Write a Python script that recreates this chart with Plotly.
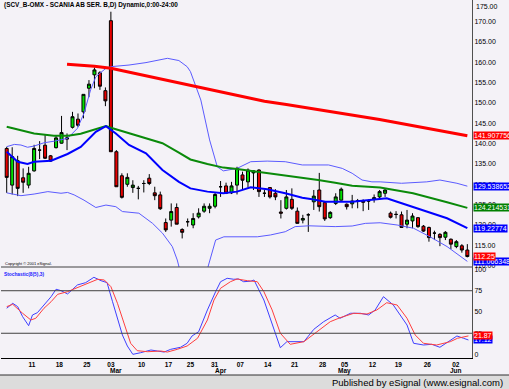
import plotly.graph_objects as go

# ---------------- data ----------------
open_ = [138.8, 129.8, 135.8, 131.6, 129.8, 133.3, 138.4, 139.6, 137.0, 139.0,
         140.1, 141.1, 144.0, 146.0, 147.8, 153.6, 156.9, 157.4, 153.0, 170.2,
         138.0, 132.1, 130.0, 129.2, 129.0, 130.2, 131.5, 127.9, 127.4, 120.6,
         121.2, 124.3, 118.9, 120.8, 120.0, 122.0, 123.4, 124.1, 124.6, 129.4,
         129.6, 127.9, 129.8, 132.3, 130.6, 132.8, 133.5, 127.8, 129.2, 127.8,
         123.2, 124.1, 126.3, 123.4, 121.2, 122.5, 125.7, 128.6, 125.5, 121.8,
         125.3, 126.1, 125.1, 125.2, 125.9, 125.9, 125.9, 126.4, 126.9, 127.8,
         122.9, 122.6, 122.5, 120.2, 121.0, 121.8, 119.7, 119.4, 118.0, 117.7,
         117.0, 116.5, 114.7, 114.9, 113.85]
high = [139.2, 139.1, 137.0, 133.9, 134.3, 139.7, 140.6, 142.1, 137.2, 142.1,
        146.8, 142.5, 147.8, 147.4, 152.1, 155.6, 158.7, 157.8, 153.8, 172.4,
        138.4, 132.7, 132.7, 131.0, 129.6, 131.0, 132.5, 129.4, 128.2, 121.6,
        125.3, 125.3, 119.2, 121.6, 122.9, 124.1, 125.3, 125.3, 127.9, 130.8,
        130.4, 130.6, 134.3, 133.1, 133.9, 133.5, 133.7, 128.6, 129.2, 128.8,
        126.1, 128.6, 129.0, 124.3, 122.5, 122.9, 128.6, 132.8, 125.7, 123.4,
        127.8, 129.2, 125.3, 127.4, 126.4, 126.3, 126.3, 127.5, 128.6, 128.8,
        123.3, 123.4, 123.3, 123.7, 122.9, 121.9, 120.0, 119.6, 118.6, 118.0,
        118.5, 116.7, 116.3, 115.3, 115.3]
low = [127.9, 127.5, 127.1, 127.9, 129.0, 133.1, 136.2, 136.2, 135.5, 138.8,
       140.0, 138.4, 143.7, 144.1, 146.2, 151.4, 153.6, 153.2, 149.2, 138.0,
       129.4, 126.5, 129.4, 127.9, 126.3, 128.0, 129.8, 126.1, 123.7, 118.3,
       119.6, 120.2, 116.7, 119.6, 119.2, 121.6, 123.0, 122.9, 124.1, 126.9,
       127.6, 127.6, 127.5, 128.6, 129.2, 128.6, 126.9, 126.9, 126.5, 126.1,
       121.6, 123.8, 123.7, 120.4, 120.4, 118.3, 123.7, 123.3, 121.0, 121.5,
       124.9, 126.0, 123.8, 124.1, 124.1, 123.4, 123.7, 125.5, 126.5, 126.9,
       121.6, 121.6, 119.3, 119.2, 119.2, 119.3, 118.3, 115.9, 116.3, 114.8,
       116.3, 114.1, 114.3, 113.2, 112.05]
close = [131.7, 136.8, 129.0, 130.5, 132.7, 138.8, 138.4, 136.4, 135.7, 141.4,
         142.7, 141.4, 146.6, 144.5, 152.1, 154.6, 158.1, 154.1, 150.5, 138.0,
         129.4, 126.8, 131.7, 129.8, 129.0, 130.2, 130.2, 127.2, 124.0, 118.8,
         123.3, 120.2, 118.2, 120.8, 121.6, 122.9, 124.6, 124.6, 127.5, 129.4,
         127.8, 129.6, 133.9, 131.0, 133.5, 133.3, 128.2, 127.8, 126.9, 126.9,
         122.9, 126.9, 124.1, 120.4, 121.6, 122.5, 127.1, 124.5, 121.5, 123.1,
         126.9, 128.8, 124.5, 125.9, 125.9, 125.6, 125.9, 126.7, 128.2, 128.6,
         121.9, 122.6, 119.4, 121.2, 122.2, 119.6, 118.5, 116.9, 118.0, 116.9,
         118.2, 115.3, 115.9, 113.85, 112.25]
days = list(range(len(close)))

# long moving average (red)
ma_long_x = [11, 16, 19, 34, 47, 51, 68, 84]
ma_long_y = [159.5, 159.0, 158.5, 154.1, 150.4, 149.6, 145.9, 141.907756]

# medium moving average (green)
ma_mid_x = [0, 2.6, 5, 8.6, 11.2, 13.5, 16.25, 18.1, 19, 22.3, 25.4, 28.4, 31.4, 33.5,
            36.6, 39.5, 42, 45.7, 50.8, 53.9, 56.8, 59.9, 63, 68.1, 74.1, 80.3, 84]
ma_mid_y = [144.15, 143.2, 142.5, 141.95, 141.9, 142.4, 143.6, 144.3, 143.9, 142.5, 141.3,
            140.1, 137.8, 136.1, 135.0, 134.1, 133.75, 133.1, 132.1, 131.6, 131.05, 130.4,
            129.65, 129.2, 127.8, 125.6, 124.214531]

# short moving average / band middle (blue)
ma_short_x = [0, 2, 3.8, 5, 8.1, 9.9, 11.1, 13.5, 14.7, 16.25, 18.1, 19.9, 22.3, 25.4,
              28.4, 31.4, 33.5, 36.6, 39.5, 42, 44.5, 47.5, 50.8, 53.9, 55.7, 58.1, 63,
              68.1, 69.3, 71.2, 74.1, 77.2, 80.3, 84]
ma_short_y = [138.0, 135.55, 135.0, 135.55, 135.8, 136.8, 137.45, 139.2, 140.9, 142.9,
              144.3, 142.5, 139.65, 137.6, 133.5, 130.6, 129.0, 128.2, 127.8, 128.2,
              129.25, 128.8, 127.8, 126.7, 126.3, 125.7, 125.7, 126.3, 126.55, 125.7,
              124.35, 122.9, 121.65, 119.22774]

# upper band (thin blue)
band_up_x = [0, 1.4, 2.6, 3.8, 5, 6.8, 8.7, 11.1, 12.9, 14.1, 15.3, 16.25, 17, 18.1, 19,
             22.3, 25.4, 28.4, 29.3, 31.4, 32.9, 33.5, 35.4, 37, 38.4, 39.5, 42, 44.5,
             47.5, 50.8, 53.9, 58.7, 61.2, 63, 64.8, 66.6, 68.1, 72.0, 76.6, 79.0, 82.1, 84]
band_up_y = [139.25, 139.8, 139.65, 139.1, 139.4, 140.2, 140.6, 141.3, 143.75, 147.45,
             153.2, 156.4, 157.3, 158.5, 158.9, 159.3, 159.9, 160.7, 160.95, 160.4, 158.9,
             157.7, 150.7, 140.9, 134.3, 133.3, 133.9, 135.55, 135.7, 135.55, 134.75,
             134.75, 133.9, 132.7, 131.05, 130.6, 130.6, 130.25, 130.6, 131.05, 130.25,
             129.538652]

# lower band (thin blue)
band_lo_x = [0, 2.6, 5, 7.5, 9.9, 11.1, 12.3, 14.1, 16.25, 18.1, 19.9, 21.1, 24.1, 26.6,
             28.4, 30.2, 31.1, 32.5, 35.5, 37, 38.1, 39.6, 45.7, 48.1, 50.8, 52.6, 55.1,
             59.9, 63, 65.4, 68.1, 71.2, 74.2, 77.2, 80.3, 84]
band_lo_y = [127.9, 127.2, 127.6, 128.2, 127.8, 128.0, 127.4, 126.1, 124.3, 124.9, 124.5,
             123.3, 122.9, 120.4, 118.0, 114.7, 111.4, 104.0, 104.0, 111.4, 116.3, 117.1,
             117.1, 117.55, 118.35, 119.6, 119.8, 119.6, 119.75, 120.4, 120.55, 120.0,
             119.2, 117.1, 114.7, 111.066348]

# stochastic %K (blue) and %D (red)
stk_x = [0, 1.1, 2.0, 2.9, 4.0, 4.7, 5.6, 7.2, 8.1, 9.0, 9.9, 11.1, 12.0, 12.9, 14.4, 15.9,
         17.2, 18.3, 19.3, 20.2, 21.1, 22.0, 23.0, 24.4, 26.3, 27.5, 28.7, 29.9, 31.7, 32.9,
         33.8, 35.0, 36.6, 38.1, 39.0, 40.2, 41.4, 42.3, 43.2, 44.5, 45.1, 46.9, 48.1, 49.9,
         51.1, 54.2, 56.0, 57.8, 59.9, 60.8, 62.7, 64.5, 66.0, 67.2, 68.7, 70.5, 73.0, 74.2,
         76.0, 77.5, 79.0, 80.9, 82.1, 83.3, 84.2]
stk_y = [54.4, 60.2, 56.3, 44.5, 33.9, 46.5, 49.2, 62.1, 68.0, 76.7, 75.1, 71.2, 76.7, 81.8,
         84.5, 90.8, 86.8, 84.5, 62.1, 42.6, 22.9, 10.0, 0.2, 2.1, 5.3, 4.1, 2.9, 6.1, 8.5,
         13.2, 21.8, 26.8, 52.4, 73.9, 85.6, 89.6, 88.5, 88.8, 85.6, 86.2, 87.6, 64.1, 40.6,
         8.0, 15.1, 15.1, 29.6, 38.6, 46.5, 42.6, 48.5, 48.5, 46.5, 52.4, 68.0, 58.2, 34.7,
         13.2, 11.2, 12.0, 8.5, 17.1, 21.8, 19.1, 17.1]
std_x = [0, 1.1, 2.9, 4.4, 5.3, 6.8, 8.1, 9.3, 11.1, 12.6, 14.7, 16.6, 17.8, 19.0, 20.2,
         21.4, 22.6, 23.8, 25.7, 28.1, 29.3, 31.1, 32.9, 34.8, 36.6, 37.8, 39.0, 40.8, 42.0,
         43.9, 45.7, 46.9, 48.4, 49.9, 51.7, 54.2, 56.6, 59.0, 60.8, 63.3, 65.7, 67.5, 69.3,
         71.2, 73.0, 74.5, 76.0, 78.4, 80.9, 82.2, 84.2]
std_y = [56.3, 59.0, 48.5, 40.6, 42.6, 54.4, 62.1, 70.8, 73.9, 77.9, 82.9, 88.5, 87.6, 79.8,
         60.2, 36.7, 13.2, 4.5, 3.3, 4.1, 2.9, 6.1, 10.0, 19.1, 40.6, 64.1, 77.9, 85.6, 88.8,
         86.8, 85.6, 73.9, 52.4, 25.0, 12.0, 15.1, 26.8, 38.6, 43.3, 48.5, 47.6, 52.4, 60.9,
         58.2, 42.6, 22.9, 13.2, 11.2, 15.1, 19.1, 21.87]

# x-axis labels
day_pos = [4.6, 9.6, 14.6, 19.0, 24.6, 29.5, 33.5, 37.9, 42.6, 47.6, 52.5, 57.6, 61.6,
           66.7, 71.4, 76.7, 81.9]
day_txt = ["11", "18", "25", "03", "10", "17", "25", "31", "07", "14", "21", "28", "05",
           "12", "19", "26", "02"]
month_pos = [20.0, 39.0, 61.6, 81.9]
month_txt = ["Mar", "Apr", "May", "Jun"]

price_ticks = [110, 115, 120, 125, 130, 135, 140, 145, 150, 155, 160, 165, 170]
price_top_label = "175.00"
stoch_ticks = [0, 25, 50, 75, 100]

# ---------------- figure ----------------
BG = "#f4f2f7"
FONT = "Liberation Sans, Arial, sans-serif"
fig = go.Figure()

fig.add_trace(go.Candlestick(
    x=days, open=open_, high=high, low=low, close=close,
    increasing=dict(line=dict(color="black", width=1), fillcolor="#00e000"),
    decreasing=dict(line=dict(color="black", width=1), fillcolor="#e80000"),
    whiskerwidth=0, xaxis="x", yaxis="y", showlegend=False, hoverinfo="skip"))

fig.add_trace(go.Scatter(x=band_up_x, y=band_up_y, mode="lines",
                         line=dict(color="#5b5bff", width=1), xaxis="x", yaxis="y"))
fig.add_trace(go.Scatter(x=band_lo_x, y=band_lo_y, mode="lines",
                         line=dict(color="#5b5bff", width=1), xaxis="x", yaxis="y"))
fig.add_trace(go.Scatter(x=ma_mid_x, y=ma_mid_y, mode="lines",
                         line=dict(color="#0a8a0a", width=2), xaxis="x", yaxis="y"))
fig.add_trace(go.Scatter(x=ma_short_x, y=ma_short_y, mode="lines",
                         line=dict(color="#0000ff", width=2), xaxis="x", yaxis="y"))
fig.add_trace(go.Scatter(x=ma_long_x, y=ma_long_y, mode="lines",
                         line=dict(color="#ff0000", width=3), xaxis="x", yaxis="y"))

fig.add_trace(go.Scatter(x=stk_x, y=stk_y, mode="lines",
                         line=dict(color="#3f3fff", width=1), xaxis="x2", yaxis="y2"))
fig.add_trace(go.Scatter(x=std_x, y=std_y, mode="lines",
                         line=dict(color="#ff3f3f", width=1), xaxis="x2", yaxis="y2"))

split = 91 / 358.0
xr = [-1.04, 84.85]
fig.update_layout(
    width=509, height=389, margin=dict(l=1, r=37, t=0, b=31),
    paper_bgcolor=BG, plot_bgcolor=BG, showlegend=False, boxgap=0.22,
    font=dict(family=FONT, size=7, color="black"),
    xaxis=dict(domain=[0, 1], range=xr, anchor="y", showticklabels=False,
               showgrid=False, zeroline=False, rangeslider=dict(visible=False)),
    yaxis=dict(domain=[split, 1], range=[109.68, 175.28], side="right",
               tickvals=price_ticks, ticktext=["%.2f" % v for v in price_ticks],
               showgrid=False, zeroline=False, showline=True, linecolor="#505050",
               linewidth=1, ticks="", tickfont=dict(size=7, color="black")),
    xaxis2=dict(domain=[0, 1], range=xr, anchor="y2", matches="x",
                tickvals=day_pos, ticktext=["<b>%s</b>" % t for t in day_txt],
                showgrid=False, zeroline=False, showline=True, linecolor="black",
                ticks="", tickfont=dict(size=6.5, color="black"), tickangle=0),
    yaxis2=dict(domain=[0, split], range=[-4.1, 102.9], side="right",
                tickvals=stoch_ticks, ticktext=[str(v) for v in stoch_ticks],
                showgrid=False, zeroline=False, showline=True, linecolor="#505050",
                ticks="", tickfont=dict(size=7, color="black")),
)

shapes = []
for lvl in (25, 75):
    shapes.append(dict(type="line", xref="paper", yref="y2", x0=0, x1=1, y0=lvl, y1=lvl,
                       line=dict(color="#404040", width=1)))
shapes.append(dict(type="line", xref="paper", yref="paper", x0=0, x1=1, y0=split, y1=split,
                   line=dict(color="#404040", width=1)))
# bottom strip
shapes.append(dict(type="rect", xref="paper", yref="paper", x0=-0.01, x1=1.09,
                   y0=-17 / 358.0, y1=-32 / 358.0, fillcolor="#dcdcdc",
                   line=dict(width=0), layer="below"))
shapes.append(dict(type="line", xref="paper", yref="paper", x0=-0.01, x1=1.09,
                   y0=-17 / 358.0, y1=-17 / 358.0, line=dict(color="#303030", width=1)))
fig.update_layout(shapes=shapes)

ann = []
for p, t in zip(month_pos, month_txt):
    ann.append(dict(x=p, y=-12.5 / 358.0, xref="x2", yref="paper", text="<b>%s</b>" % t,
                    showarrow=False, font=dict(size=6.5, color="black"), yanchor="middle"))
# top price label, kept inside the chart as in the reference
ann.append(dict(x=1, y=1, xref="paper", yref="paper", text=price_top_label,
                showarrow=False, xanchor="left", yanchor="top", xshift=2, yshift=-1,
                font=dict(size=7, color="black")))
ann.append(dict(x=0.003, y=1 - 5 / 358.0, xref="paper", yref="paper",
                text="<b>(SCV_B-OMX - SCANIA AB SER. B,D) Dynamic,0:00-24:00</b>",
                showarrow=False, xanchor="left", yanchor="middle",
                font=dict(size=6.4, color="black")))
ann.append(dict(x=0.004, y=(358 - 263) / 358.0, xref="paper", yref="paper",
                text="Copyright © 2001 eSignal.", showarrow=False, xanchor="left",
                yanchor="middle", font=dict(size=4, color="black")))
ann.append(dict(x=0.003, y=(358 - 274) / 358.0, xref="paper", yref="paper",
                text="<b>Stochastic(8(5),3)</b>", showarrow=False, xanchor="left",
                yanchor="middle", font=dict(size=4.8, color="#2020ff")))
ann.append(dict(x=(505 - 1) / 471.0, y=-(382 - 358) / 358.0, xref="paper", yref="paper",
                text="Published by eSignal (www.esignal.com)", showarrow=False,
                xanchor="right", yanchor="middle",
                font=dict(size=9.5, color="black", family="Liberation Sans, Arial")))

value_tags = [
    (ma_long_y[-1], "y", "141.907756", "#ff0000"),
    (band_up_y[-1], "y", "129.538652", "#0000ff"),
    (ma_mid_y[-1], "y", "124.214531", "#008000"),
    (ma_short_y[-1], "y", "119.22774", "#0000ff"),
    (band_lo_y[-1], "y", "111.066348", "#0000ff"),
    (close[-1], "y", "112.25", "#ff0000"),
    (stk_y[-1], "y2", "17.12", "#0000ff"),
    (std_y[-1], "y2", "21.87", "#ff0000"),
]
for v, yr, t, c in value_tags:
    ann.append(dict(x=1, y=v, xref="paper", yref=yr, text=t, showarrow=False,
                    xanchor="left", yanchor="middle", xshift=1, bgcolor=c, borderpad=0,
                    font=dict(size=7, color="white")))
fig.update_layout(annotations=ann)

fig.write_html("out.html", config=dict(displayModeBar=False),
               post_script="document.body.style.margin='0';document.body.style.overflow='hidden';")
